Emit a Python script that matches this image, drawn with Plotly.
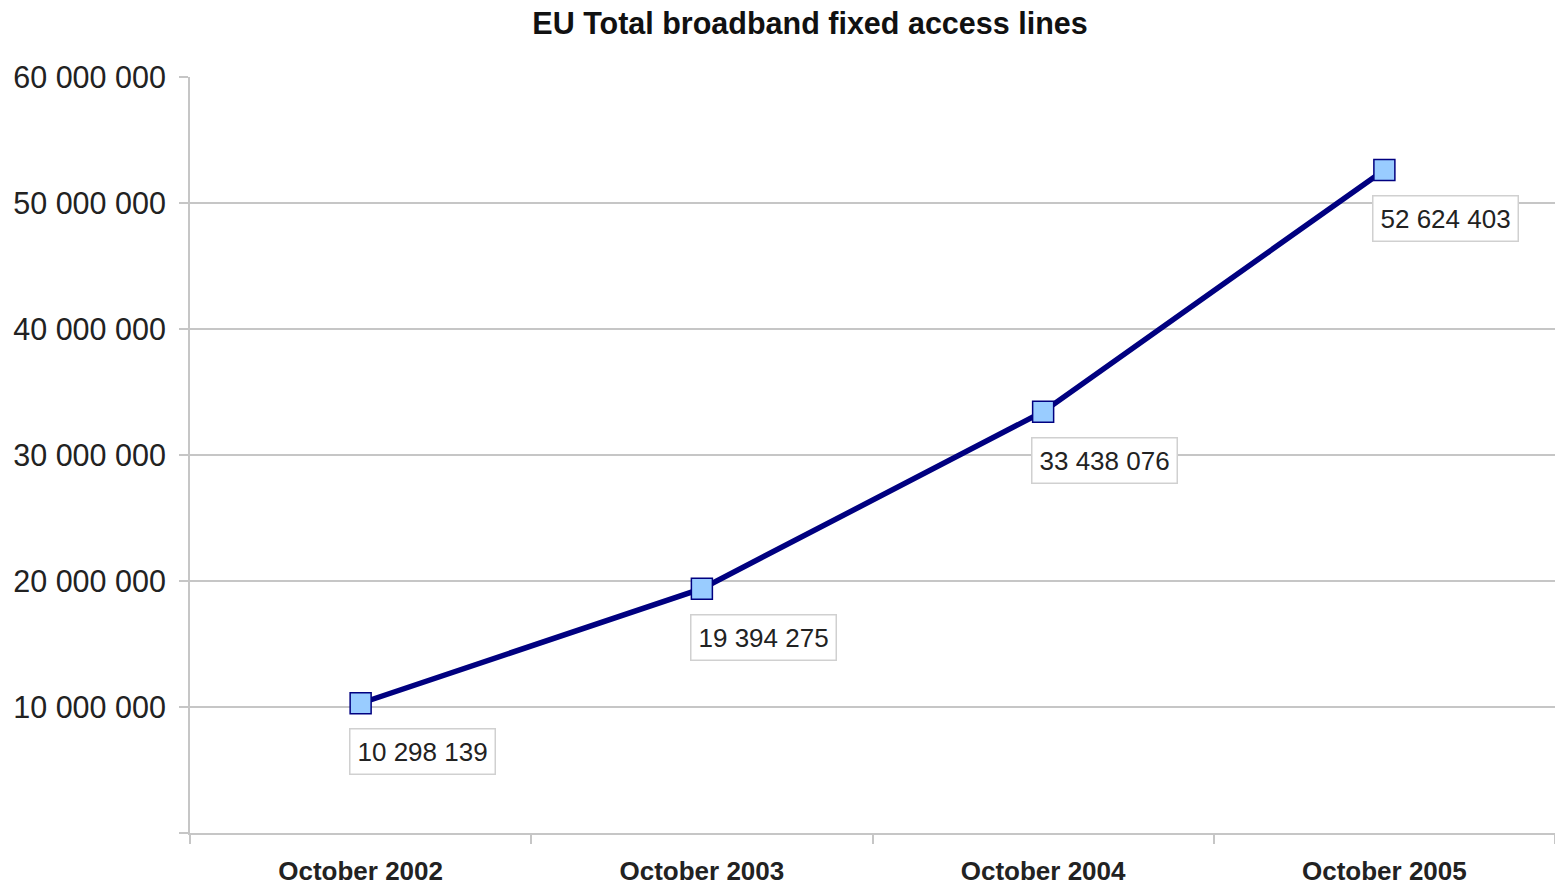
import plotly.graph_objects as go

categories = ["October 2002", "October 2003", "October 2004", "October 2005"]
values = [10298139, 19394275, 33438076, 52624403]
value_labels = ["10 298 139", "19 394 275", "33 438 076", "52 624 403"]
y_tickvals = [0, 10000000, 20000000, 30000000, 40000000, 50000000, 60000000]
y_ticktext = ["", "10 000 000", "20 000 000", "30 000 000", "40 000 000", "50 000 000", "60 000 000"]
title_text = "EU Total broadband fixed access lines"

FONT = "Liberation Sans, Arial, sans-serif"
GRID = "#c6c6c6"

fig = go.Figure()
fig.add_trace(go.Scatter(
    x=categories, y=values, mode="lines+markers",
    line=dict(color="#000080", width=5.5),
    marker=dict(symbol="square", size=21, color="#99ccff",
                line=dict(color="#000080", width=1.5)),
    showlegend=False, hoverinfo="skip",
))

for c, v, t in zip(categories, values, value_labels):
    fig.add_annotation(
        x=c, y=v, xref="x", yref="y", text=t, showarrow=False,
        xanchor="left", yanchor="top", xshift=-12, yshift=-25,
        font=dict(family=FONT, size=26, color="#222222"),
        bgcolor="white", bordercolor="#d0d0d0", borderwidth=1.5, borderpad=7,
    )

fig.update_layout(
    width=1555, height=886,
    margin=dict(l=190, r=0, t=77, b=53),
    paper_bgcolor="white", plot_bgcolor="white",
    title=dict(text="<b>" + title_text + "</b>", x=810 / 1555, xanchor="center",
               y=1 - 23 / 886, yanchor="middle",
               font=dict(family=FONT, size=30.5, color="#111111")),
    xaxis=dict(
        type="category", range=[-0.5, 3.5],
        showline=True, linecolor=GRID, linewidth=2,
        ticks="outside", tickson="boundaries", ticklen=9, tickcolor=GRID, tickwidth=2,
        showgrid=False, ticklabelstandoff=14,
        tickfont=dict(family=FONT, size=26, color="#222222"),
        tickprefix="<b>", ticksuffix="</b>",
    ),
    yaxis=dict(
        range=[0, 60000000], tickvals=y_tickvals, ticktext=y_ticktext,
        showline=True, linecolor=GRID, linewidth=2,
        ticks="outside", ticklen=9, tickcolor=GRID, tickwidth=2,
        showgrid=True, gridcolor=GRID, gridwidth=1.5, zeroline=False,
        ticklabelstandoff=7,
        tickfont=dict(family=FONT, size=30.5, color="#222222"),
    ),
)

fig.write_html("out.html")
